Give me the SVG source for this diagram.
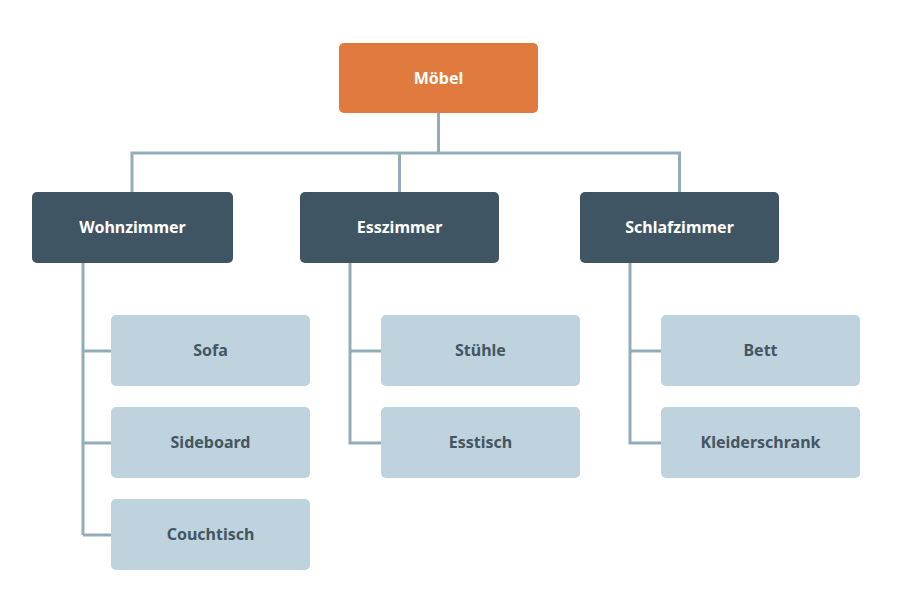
<svg xmlns="http://www.w3.org/2000/svg" width="898" height="602" viewBox="0 0 898 602">
<style>
.root rect{fill:#E07A3E}
.cat rect{fill:#3F5563}
.item rect{fill:#BED3DD}
text{font-family:"Noto Sans","Open Sans","Liberation Sans",sans-serif;font-weight:bold;font-size:16px;text-anchor:middle}
.root text,.cat text{fill:#FFFFFF}
.item text{fill:#435662}
#connectors path{fill:none;stroke:#93ADB8;stroke-width:3}
</style>
<rect width="898" height="602" fill="#FFFFFF"/>
<g id="connectors">
<path d="M438.5 113 V153 M132 192 V153 H679.5 V192 M399.5 153 V192"/>
<path d="M83 263 V535 M83 351 H111 M83 443 H111 M83 535 H111"/>
<path d="M350 263 V443 H381 M350 351 H381"/>
<path d="M630 263 V443 H661 M630 351 H661"/>
</g>
<g id="moebel" class="root"><rect x="339" y="43" width="199" height="70" rx="5"/><text x="438.5" y="84">Möbel</text></g>
<g id="wohnzimmer" class="cat"><rect x="32" y="192" width="201" height="71" rx="5"/><text x="132.5" y="233">Wohnzimmer</text></g>
<g id="esszimmer" class="cat"><rect x="300" y="192" width="199" height="71" rx="5"/><text x="399.5" y="233">Esszimmer</text></g>
<g id="schlafzimmer" class="cat"><rect x="580" y="192" width="199" height="71" rx="5"/><text x="679.5" y="233">Schlafzimmer</text></g>
<g id="sofa" class="item"><rect x="111" y="315" width="199" height="71" rx="5"/><text x="210.5" y="356">Sofa</text></g>
<g id="sideboard" class="item"><rect x="111" y="407" width="199" height="71" rx="5"/><text x="210.5" y="448">Sideboard</text></g>
<g id="couchtisch" class="item"><rect x="111" y="499" width="199" height="71" rx="5"/><text x="210.5" y="540">Couchtisch</text></g>
<g id="stuehle" class="item"><rect x="381" y="315" width="199" height="71" rx="5"/><text x="480.5" y="356">Stühle</text></g>
<g id="esstisch" class="item"><rect x="381" y="407" width="199" height="71" rx="5"/><text x="480.5" y="448">Esstisch</text></g>
<g id="bett" class="item"><rect x="661" y="315" width="199" height="71" rx="5"/><text x="760.5" y="356">Bett</text></g>
<g id="kleiderschrank" class="item"><rect x="661" y="407" width="199" height="71" rx="5"/><text x="760.5" y="448">Kleiderschrank</text></g>
</svg>
